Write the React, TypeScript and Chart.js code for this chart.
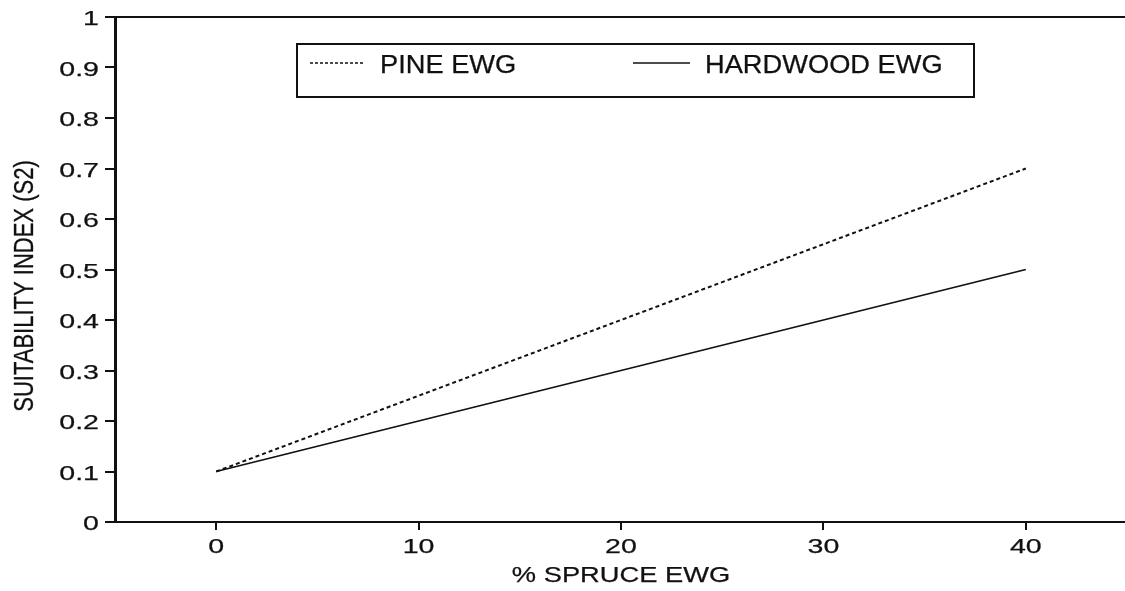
import { useEffect, useRef } from "react";
import { Chart, registerables } from "chart.js";

Chart.register(...registerables);

// Suitability index (S2) against the share of spruce evergreen (EWG)
const SPRUCE_PCT = [0, 10, 20, 30, 40];
const PINE_EWG = [0.1, 0.25, 0.4, 0.55, 0.7];
const HARDWOOD_EWG = [0.1, 0.2, 0.3, 0.4, 0.5];

const X_TICKS = [0, 10, 20, 30, 40];
const X_TICK_LABELS = ["0", "10", "20", "30", "40"];
const Y_TICKS = [0, 0.1, 0.2, 0.3, 0.4, 0.5, 0.6, 0.7, 0.8, 0.9, 1];
const Y_TICK_LABELS = ["0", "0.1", "0.2", "0.3", "0.4", "0.5", "0.6", "0.7", "0.8", "0.9", "1"];

const SERIES_LABELS = ["PINE EWG", "HARDWOOD EWG"];
const X_TITLE = "% SPRUCE EWG";
const Y_TITLE = "SUITABILITY INDEX (S2)";

const INK = "#111";
const FONT = '"Liberation Sans", Arial, Helvetica, sans-serif';

// Draws a text string widened horizontally by sx (the lettering in this figure is broad)
function wideText(
  ctx: CanvasRenderingContext2D,
  text: string,
  x: number,
  y: number,
  size: number,
  sx: number,
  align: CanvasTextAlign,
  vertical = false
) {
  ctx.save();
  ctx.translate(x, y);
  ctx.scale(sx, 1);
  if (vertical) ctx.rotate(-Math.PI / 2);
  ctx.font = `${size}px ${FONT}`;
  ctx.fillStyle = INK;
  ctx.strokeStyle = INK;
  ctx.lineWidth = 0.25;
  ctx.textAlign = align;
  ctx.textBaseline = "alphabetic";
  ctx.fillText(text, 0, 0);
  ctx.strokeText(text, 0, 0);
  ctx.restore();
}

const decorPlugin = {
  id: "figureDecor",
  afterDraw(chart: any) {
    const { ctx, chartArea, scales } = chart;
    const xs = scales.x;
    const ys = scales.y;

    // top frame line
    ctx.save();
    ctx.strokeStyle = INK;
    ctx.lineWidth = 2;
    ctx.beginPath();
    ctx.moveTo(chartArea.left, chartArea.top);
    ctx.lineTo(chartArea.right, chartArea.top);
    ctx.stroke();
    ctx.restore();

    // tick labels
    Y_TICKS.forEach((v, i) => {
      wideText(ctx, Y_TICK_LABELS[i], 99, ys.getPixelForValue(v) + 8, 21, 1.36, "right");
    });
    X_TICKS.forEach((v, i) => {
      wideText(ctx, X_TICK_LABELS[i], xs.getPixelForValue(v), chartArea.bottom + 31, 21, 1.36, "center");
    });

    // axis titles
    wideText(ctx, X_TITLE, (chartArea.left + chartArea.right) / 2, chartArea.bottom + 60, 22, 1.24, "center");
    wideText(ctx, Y_TITLE, 33, 286, 22, 1.27, "center", true);

    // legend box
    const ds = chart.data.datasets;
    ctx.save();
    ctx.strokeStyle = INK;
    ctx.lineWidth = 2;
    ctx.strokeRect(297, 44, 677, 53);

    const sampleY = 63;
    ctx.lineWidth = 1.5;
    ctx.setLineDash([3, 2]);
    ctx.beginPath();
    ctx.moveTo(310, sampleY);
    ctx.lineTo(363, sampleY);
    ctx.stroke();
    ctx.setLineDash([]);
    ctx.beginPath();
    ctx.moveTo(633, sampleY);
    ctx.lineTo(690, sampleY);
    ctx.stroke();
    ctx.restore();

    wideText(ctx, ds[0].label, 380, 73, 25, 1.09, "left");
    wideText(ctx, ds[1].label, 705, 73, 25, 1.09, "left");
  },
};

export default function App() {
  const canvasRef = useRef<HTMLCanvasElement | null>(null);

  useEffect(() => {
    const canvas = canvasRef.current;
    if (!canvas) return;

    const chart = new Chart(canvas, {
      type: "line",
      data: {
        datasets: [
          {
            label: SERIES_LABELS[0],
            data: SPRUCE_PCT.map((x, i) => ({ x, y: PINE_EWG[i] })),
            borderColor: INK,
            borderWidth: 2,
            borderDash: [4, 3],
            pointRadius: 0,
            tension: 0,
            fill: false,
          },
          {
            label: SERIES_LABELS[1],
            data: SPRUCE_PCT.map((x, i) => ({ x, y: HARDWOOD_EWG[i] })),
            borderColor: INK,
            borderWidth: 1.8,
            pointRadius: 0,
            tension: 0,
            fill: false,
          },
        ],
      },
      options: {
        animation: false,
        responsive: false,
        devicePixelRatio: 1,
        layout: { padding: { top: 17, left: 0, right: 0, bottom: 0 } },
        plugins: {
          legend: { display: false },
          tooltip: { enabled: false },
        },
        scales: {
          x: {
            type: "linear",
            min: -5,
            max: 45,
            afterBuildTicks: (scale: any) => {
              scale.ticks = X_TICKS.map((value) => ({ value }));
            },
            afterFit: (scale: any) => {
              scale.height = 69;
            },
            ticks: { display: false },
            grid: {
              drawOnChartArea: false,
              drawTicks: true,
              tickLength: 8,
              lineWidth: 2,
              color: INK,
            },
            border: { display: true, color: INK, width: 2 },
          },
          y: {
            type: "linear",
            min: 0,
            max: 1,
            afterBuildTicks: (scale: any) => {
              scale.ticks = Y_TICKS.map((value) => ({ value }));
            },
            afterFit: (scale: any) => {
              scale.width = 115;
            },
            ticks: { display: false },
            grid: {
              drawOnChartArea: false,
              drawTicks: true,
              tickLength: 10,
              lineWidth: 2,
              color: INK,
            },
            border: { display: true, color: INK, width: 3 },
          },
        },
      },
      plugins: [decorPlugin],
    });

    return () => chart.destroy();
  }, []);

  return (
    <div
      style={{
        position: "fixed",
        left: 0,
        top: 0,
        width: 1125,
        height: 591,
        overflow: "hidden",
        background: "#fff",
      }}
    >
      <canvas
        ref={canvasRef}
        width={1127}
        height={591}
        style={{ display: "block", width: 1127, height: 591 }}
      />
    </div>
  );
}
